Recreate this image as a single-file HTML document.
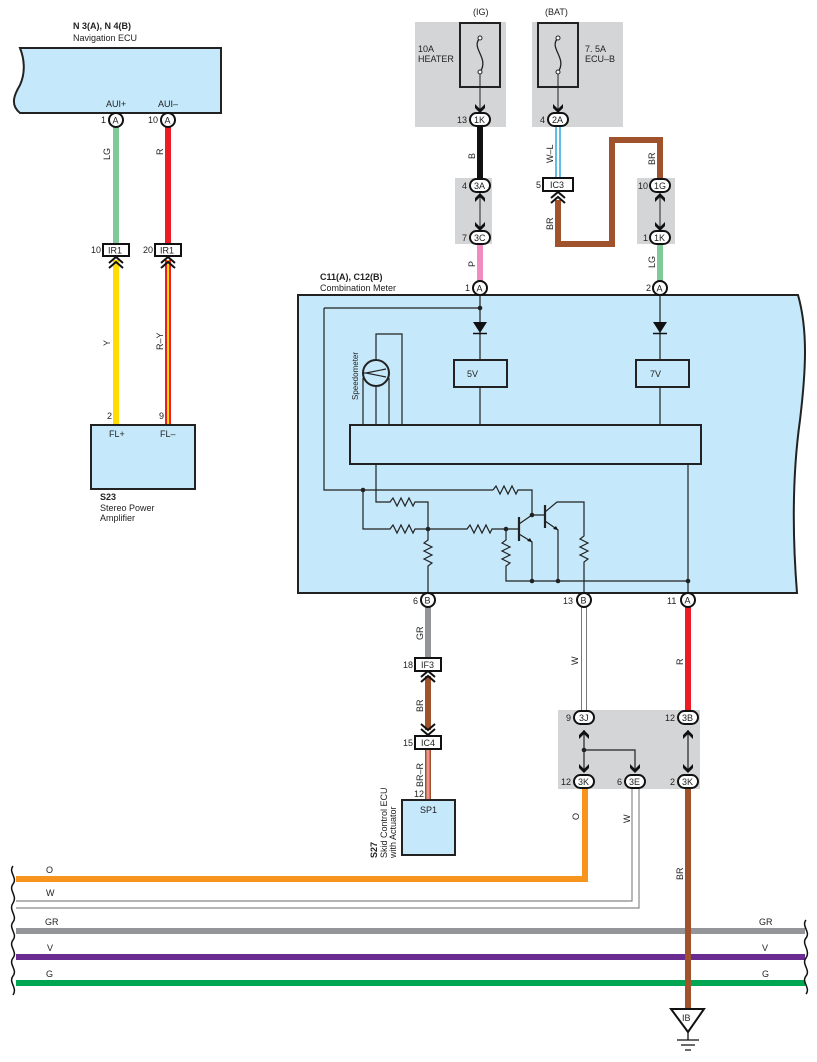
<!DOCTYPE html>
<html><head><meta charset="utf-8"><style>
html,body{margin:0;padding:0;background:#fff}
svg{display:block}
text{font-family:"Liberation Sans",sans-serif;font-size:9px;fill:#222}
.b{font-weight:bold}
</style></head><body>
<svg width="817" height="1062" viewBox="0 0 817 1062" xmlns="http://www.w3.org/2000/svg">
<defs>
<g id="ad"><path d="M-5,-6 L0,-1 L5,-6 L5,-2 L0,3 L-5,-2Z" fill="#111"/></g>
<g id="au"><path d="M-5,6 L0,1 L5,6 L5,2 L0,-3 L-5,2Z" fill="#111"/></g>
<g id="dch"><path d="M-7,5 L0,-1 L7,5 M-7,10 L0,4 L7,10" fill="none" stroke="#111" stroke-width="2"/></g>
<g id="dcd"><path d="M-7,-5 L0,1 L7,-5 M-7,-10 L0,-4 L7,-10" fill="none" stroke="#111" stroke-width="2"/></g>
</defs>

<!-- gray regions -->
<rect x="415" y="22" width="91" height="105" fill="#d4d5d7"/>
<rect x="532" y="22" width="91" height="105" fill="#d4d5d7"/>
<rect x="455" y="178" width="37" height="66" fill="#d4d5d7"/>
<rect x="637" y="178" width="38" height="66" fill="#d4d5d7"/>
<rect x="558" y="710" width="142" height="79" fill="#d4d5d7"/>

<!-- Navigation ECU -->
<text x="73" y="29" class="b">N 3(A), N 4(B)</text>
<text x="73" y="41">Navigation ECU</text>
<path d="M20,48 L221,48 L221,113 L20,113 C10,105 14,95 20,85 C26,72 24,58 20,48Z" fill="#c5e8fa" stroke="#222" stroke-width="2"/>
<text x="106" y="107">AUI+</text><text x="158" y="107">AUI–</text>

<!-- nav wires -->
<line x1="116" y1="127" x2="116" y2="244" stroke="#7fc99b" stroke-width="6"/>
<line x1="168" y1="127" x2="168" y2="244" stroke="#ed1c24" stroke-width="6"/>
<line x1="116" y1="260" x2="116" y2="425" stroke="#ffdd00" stroke-width="6"/>
<line x1="168" y1="260" x2="168" y2="425" stroke="#ed1c24" stroke-width="6"/>
<line x1="168" y1="260" x2="168" y2="425" stroke="#ffdd00" stroke-width="2"/>
<circle cx="116" cy="120" r="7" fill="#fff" stroke="#111" stroke-width="2"/><text x="112.5" y="123.5">A</text>
<circle cx="168" cy="120" r="7" fill="#fff" stroke="#111" stroke-width="2"/><text x="164.5" y="123.5">A</text>
<text x="101" y="123">1</text><text x="148" y="123">10</text>
<text transform="translate(110,160) rotate(-90)">LG</text>
<text transform="translate(163,155) rotate(-90)">R</text>
<rect x="103" y="244" width="26" height="12" fill="#fff" stroke="#111" stroke-width="2"/><text x="108" y="253.5">IR1</text>
<rect x="155" y="244" width="26" height="12" fill="#fff" stroke="#111" stroke-width="2"/><text x="160" y="253.5">IR1</text>
<text x="91" y="253">10</text><text x="143" y="253">20</text>
<use href="#dch" x="116" y="258"/><use href="#dch" x="168" y="258"/>
<text transform="translate(110,346) rotate(-90)">Y</text>
<text transform="translate(163,350) rotate(-90)">R–Y</text>
<text x="107" y="419">2</text><text x="159" y="419">9</text>
<rect x="91" y="425" width="104" height="64" fill="#c5e8fa" stroke="#222" stroke-width="2"/>
<text x="109" y="437">FL+</text><text x="160" y="437">FL–</text>
<text x="100" y="500" class="b">S23</text>
<text x="100" y="511">Stereo Power</text>
<text x="100" y="521">Amplifier</text>

<!-- fuses -->
<text x="473" y="15">(IG)</text><text x="545" y="15">(BAT)</text>
<rect x="460" y="23" width="40" height="64" fill="none" stroke="#222" stroke-width="2"/>
<rect x="538" y="23" width="40" height="64" fill="none" stroke="#222" stroke-width="2"/>
<path d="M480,38 C470,48 490,58 480,72" fill="none" stroke="#222" stroke-width="1.3"/>
<path d="M558,38 C548,48 568,58 558,72" fill="none" stroke="#222" stroke-width="1.3"/>
<circle cx="480" cy="38" r="2" fill="#fff" stroke="#222"/><circle cx="480" cy="72" r="2" fill="#fff" stroke="#222"/>
<circle cx="558" cy="38" r="2" fill="#fff" stroke="#222"/><circle cx="558" cy="72" r="2" fill="#fff" stroke="#222"/>
<line x1="480" y1="74" x2="480" y2="110" stroke="#222"/><line x1="558" y1="74" x2="558" y2="110" stroke="#222"/>
<use href="#ad" x="480" y="110"/><use href="#ad" x="558" y="110"/>
<text x="418" y="52">10A</text><text x="418" y="62">HEATER</text>
<text x="585" y="52">7. 5A</text><text x="585" y="62">ECU–B</text>

<!-- B wire, W-L -->
<line x1="480" y1="126" x2="480" y2="180" stroke="#111" stroke-width="6"/>
<line x1="556" y1="126" x2="556" y2="178" stroke="#29a8e0" stroke-width="1.5"/>
<line x1="560" y1="126" x2="560" y2="178" stroke="#29a8e0" stroke-width="1.5"/>
<line x1="558" y1="126" x2="558" y2="178" stroke="#fff" stroke-width="1.5"/>
<path d="M558,200 L558,244 L612,244 L612,140 L660,140 L660,180" fill="none" stroke="#a0522d" stroke-width="6"/>
<line x1="480" y1="243" x2="480" y2="283" stroke="#f08cbf" stroke-width="6"/>
<line x1="660" y1="243" x2="660" y2="283" stroke="#7fc99b" stroke-width="6"/>
<line x1="480" y1="192" x2="480" y2="230" stroke="#222"/>
<line x1="660" y1="192" x2="660" y2="230" stroke="#222"/>
<use href="#au" x="480" y="196"/><use href="#ad" x="480" y="228"/>
<use href="#au" x="660" y="196"/><use href="#ad" x="660" y="228"/>
<g fill="#fff" stroke="#111" stroke-width="2">
<rect x="470" y="113" width="20" height="13" rx="6.5"/><rect x="548" y="113" width="20" height="13" rx="6.5"/>
<rect x="470" y="179" width="20" height="13" rx="6.5"/><rect x="470" y="231" width="20" height="13" rx="6.5"/>
<rect x="650" y="179" width="20" height="13" rx="6.5"/><rect x="650" y="231" width="20" height="13" rx="6.5"/>
<rect x="543" y="178" width="30" height="13"/>
</g>
<text x="474" y="123">1K</text><text x="552" y="123">2A</text>
<text x="474" y="189">3A</text><text x="474" y="241">3C</text>
<text x="654" y="189">1G</text><text x="654" y="241">1K</text>
<text x="550" y="188">IC3</text>
<use href="#dch" x="558" y="193"/>
<text x="457" y="123">13</text><text x="540" y="123">4</text>
<text x="462" y="189">4</text><text x="462" y="241">7</text>
<text x="536" y="188">5</text>
<text x="638" y="189">10</text><text x="643" y="241">1</text>
<text transform="translate(475,159) rotate(-90)">B</text>
<text transform="translate(553,163) rotate(-90)">W–L</text>
<text transform="translate(553,230) rotate(-90)">BR</text>
<text transform="translate(655,165) rotate(-90)">BR</text>
<text transform="translate(655,268) rotate(-90)">LG</text>
<text transform="translate(475,267) rotate(-90)">P</text>

<!-- Combination meter -->
<text x="320" y="280" class="b">C11(A), C12(B)</text>
<text x="320" y="291">Combination Meter</text>
<path d="M298,295 L798,295 C808,330 806,370 800,420 C793,470 792,530 797,593 L298,593Z" fill="#c5e8fa" stroke="#222" stroke-width="2"/>
<circle cx="480" cy="288" r="7" fill="#fff" stroke="#111" stroke-width="2"/><text x="476.5" y="291.5">A</text>
<circle cx="660" cy="288" r="7" fill="#fff" stroke="#111" stroke-width="2"/><text x="656.5" y="291.5">A</text>
<text x="465" y="291">1</text><text x="646" y="291">2</text>
<g stroke="#222" stroke-width="1.2" fill="none">
<path d="M480,295 L480,425 M324,308 L480,308 M324,308 L324,490 L493,490"/>
<path d="M660,295 L660,425"/>
<rect x="454" y="360" width="53" height="27" stroke-width="2" fill="#c5e8fa"/>
<rect x="636" y="360" width="53" height="27" stroke-width="2" fill="#c5e8fa"/>
<rect x="350" y="425" width="351" height="39" stroke-width="2"/>
<path d="M363,425 L363,378 M389,425 L389,378 M376,425 L376,334 L402,334 L402,425"/>
<circle cx="376" cy="373" r="13" stroke-width="2" fill="#c5e8fa"/>
<path d="M366,373 L386,369 M366,373 L386,377 M366,373 L364,373"/>
<path d="M376,464 L376,502 L390,502 l3,-4 l4,8 l4,-8 l4,8 l4,-8 l4,8 l2,-4 L428,502 L428,540 l-4,3 l8,4 l-8,4 l8,4 l-8,4 l8,4 l-4,3 L428,593"/>
<path d="M493,490 l3,-4 l4,8 l4,-8 l4,8 l4,-8 l4,8 l2,-4 L532,490 L532,515"/>
<path d="M363,490 L363,529 L390,529 l3,-4 l4,8 l4,-8 l4,8 l4,-8 l4,8 l2,-4 L467,529 l3,-4 l4,8 l4,-8 l4,8 l4,-8 l4,8 l2,-4 L519,529"/>
<path d="M506,529 L506,540 l-4,3 l8,4 l-8,4 l8,4 l-8,4 l8,4 l-4,3 L506,581 L688,581"/>
<path d="M519,517 L519,541" stroke-width="2.2"/>
<path d="M519,524 L532,515 L545,515 M519,534 L532,542 L532,581"/>
<path d="M545,505 L545,528" stroke-width="2.2"/>
<path d="M545,512 L557,502 L584,502 L584,536 l-4,3 l8,4 l-8,4 l8,4 l-8,4 l8,4 l-4,3 L584,593 M545,521 L558,530 L558,581"/>
<path d="M688,464 L688,593"/>
</g>
<path d="M473,322 L487,322 L480,333Z M653,322 L667,322 L660,333Z" fill="#111"/>
<path d="M473,333.5 L487,333.5 M653,333.5 L667,333.5" stroke="#111" stroke-width="1.5"/>
<path d="M532,542 l-5,-1 l3,-3Z M558,530 l-5,-1 l3,-3Z" fill="#111"/>
<g fill="#222"><circle cx="480" cy="308" r="2.3"/><circle cx="363" cy="490" r="2.3"/><circle cx="428" cy="529" r="2.3"/><circle cx="506" cy="529" r="2.3"/><circle cx="532" cy="515" r="2.3"/><circle cx="532" cy="581" r="2.3"/><circle cx="558" cy="581" r="2.3"/><circle cx="688" cy="581" r="2.3"/></g>
<text x="467" y="377">5V</text><text x="650" y="377">7V</text>
<text transform="translate(358,400) rotate(-90)" style="font-size:8px">Speedometer</text>

<!-- lower wires -->
<line x1="428" y1="606" x2="428" y2="658" stroke="#939598" stroke-width="6"/>
<line x1="428" y1="676" x2="428" y2="730" stroke="#a0522d" stroke-width="6"/>
<line x1="428" y1="748" x2="428" y2="800" stroke="#a0522d" stroke-width="6"/>
<line x1="428" y1="748" x2="428" y2="800" stroke="#fff" stroke-width="2.5"/>
<line x1="428" y1="748" x2="428" y2="800" stroke="#ed1c24" stroke-width="1"/>
<line x1="688" y1="606" x2="688" y2="710" stroke="#ed1c24" stroke-width="6"/>
<path d="M581.5,606 L581.5,711 M586.5,606 L586.5,711" stroke="#777" stroke-width="1"/>
<!-- bus -->
<path d="M16,879 L585,879 L585,788" fill="none" stroke="#f7941d" stroke-width="6"/>
<path d="M16,901 L632,901 L632,788 M16,908 L639,908 L639,788" fill="none" stroke="#888" stroke-width="1.2"/>
<line x1="16" y1="931" x2="805" y2="931" stroke="#939598" stroke-width="6"/>
<line x1="16" y1="957" x2="805" y2="957" stroke="#6b2c91" stroke-width="6"/>
<line x1="16" y1="983" x2="805" y2="983" stroke="#00a651" stroke-width="6"/>
<line x1="688" y1="788" x2="688" y2="1010" stroke="#a0522d" stroke-width="6"/>
<path d="M671,1009 L704,1009 L688,1032Z" fill="#fff" stroke="#111" stroke-width="2"/>
<text x="682" y="1021">IB</text>
<path d="M688,1032 L688,1040 M677,1040 L699,1040 M681,1045 L695,1045 M685,1050 L691,1050" stroke="#111" stroke-width="1.3"/>
<path d="M13,866 C8,872 18,878 13,884 C8,890 18,896 13,903 C8,910 18,916 13,922 C8,928 18,934 13,940 C8,946 18,952 13,958 C8,964 18,970 13,976 C8,982 18,988 13,995" fill="none" stroke="#111" stroke-width="1.5"/>
<path d="M806,920 C801,926 811,932 806,938 C801,944 811,950 806,958 C801,964 811,970 806,976 C801,982 811,988 806,994" fill="none" stroke="#111" stroke-width="1.5"/>
<text x="46" y="873">O</text><text x="46" y="896">W</text><text x="45" y="925">GR</text><text x="47" y="951">V</text><text x="46" y="977">G</text>
<text x="759" y="925">GR</text><text x="762" y="951">V</text><text x="762" y="977">G</text>

<!-- gray region arrows -->
<path d="M584,730 L584,770 M688,730 L688,770 M584,750 L635,750 L635,770" stroke="#222" stroke-width="1.2" fill="none"/>
<circle cx="584" cy="750" r="2.3" fill="#222"/>
<use href="#au" x="584" y="733"/><use href="#ad" x="584" y="770"/>
<use href="#au" x="688" y="733"/><use href="#ad" x="688" y="770"/>
<use href="#ad" x="635" y="770"/>
<use href="#dch" x="428" y="672"/><use href="#dcd" x="428" y="734"/>

<g fill="#fff" stroke="#111" stroke-width="2">
<circle cx="428" cy="600" r="7"/><circle cx="584" cy="600" r="7"/><circle cx="688" cy="600" r="7"/>
<rect x="574" y="711" width="20" height="13" rx="6.5"/><rect x="678" y="711" width="20" height="13" rx="6.5"/>
<rect x="574" y="775" width="20" height="13" rx="6.5"/><rect x="625" y="775" width="20" height="13" rx="6.5"/><rect x="678" y="775" width="20" height="13" rx="6.5"/>
<rect x="415" y="658" width="26" height="13"/><rect x="415" y="736" width="26" height="13"/>
</g>
<text x="424.5" y="603.5">B</text><text x="580.5" y="603.5">B</text><text x="684.5" y="603.5">A</text>
<text x="413" y="604">6</text><text x="563" y="604">13</text><text x="667" y="604">11</text>
<text x="579" y="721">3J</text><text x="682" y="721">3B</text>
<text x="578" y="785">3K</text><text x="629" y="785">3E</text><text x="682" y="785">3K</text>
<text x="566" y="721">9</text><text x="665" y="721">12</text>
<text x="561" y="785">12</text><text x="617" y="785">6</text><text x="670" y="785">2</text>
<text x="421" y="668">IF3</text><text x="421" y="746">IC4</text>
<text x="403" y="668">18</text><text x="403" y="746">15</text>
<text transform="translate(423,640) rotate(-90)">GR</text>
<text transform="translate(423,712) rotate(-90)">BR</text>
<text transform="translate(423,787) rotate(-90)">BR–R</text>
<text transform="translate(578,665) rotate(-90)">W</text>
<text transform="translate(683,665) rotate(-90)">R</text>
<text transform="translate(579,820) rotate(-90)">O</text>
<text transform="translate(630,823) rotate(-90)">W</text>
<text transform="translate(683,880) rotate(-90)">BR</text>
<text x="414" y="797">12</text>
<rect x="402" y="800" width="53" height="55" fill="#c5e8fa" stroke="#222" stroke-width="2"/>
<text x="420" y="813">SP1</text>
<text transform="translate(377,858) rotate(-90)" class="b">S27</text>
<text transform="translate(387,858) rotate(-90)">Skid Control ECU</text>
<text transform="translate(396,858) rotate(-90)">with Actuator</text>
</svg>
</body></html>
